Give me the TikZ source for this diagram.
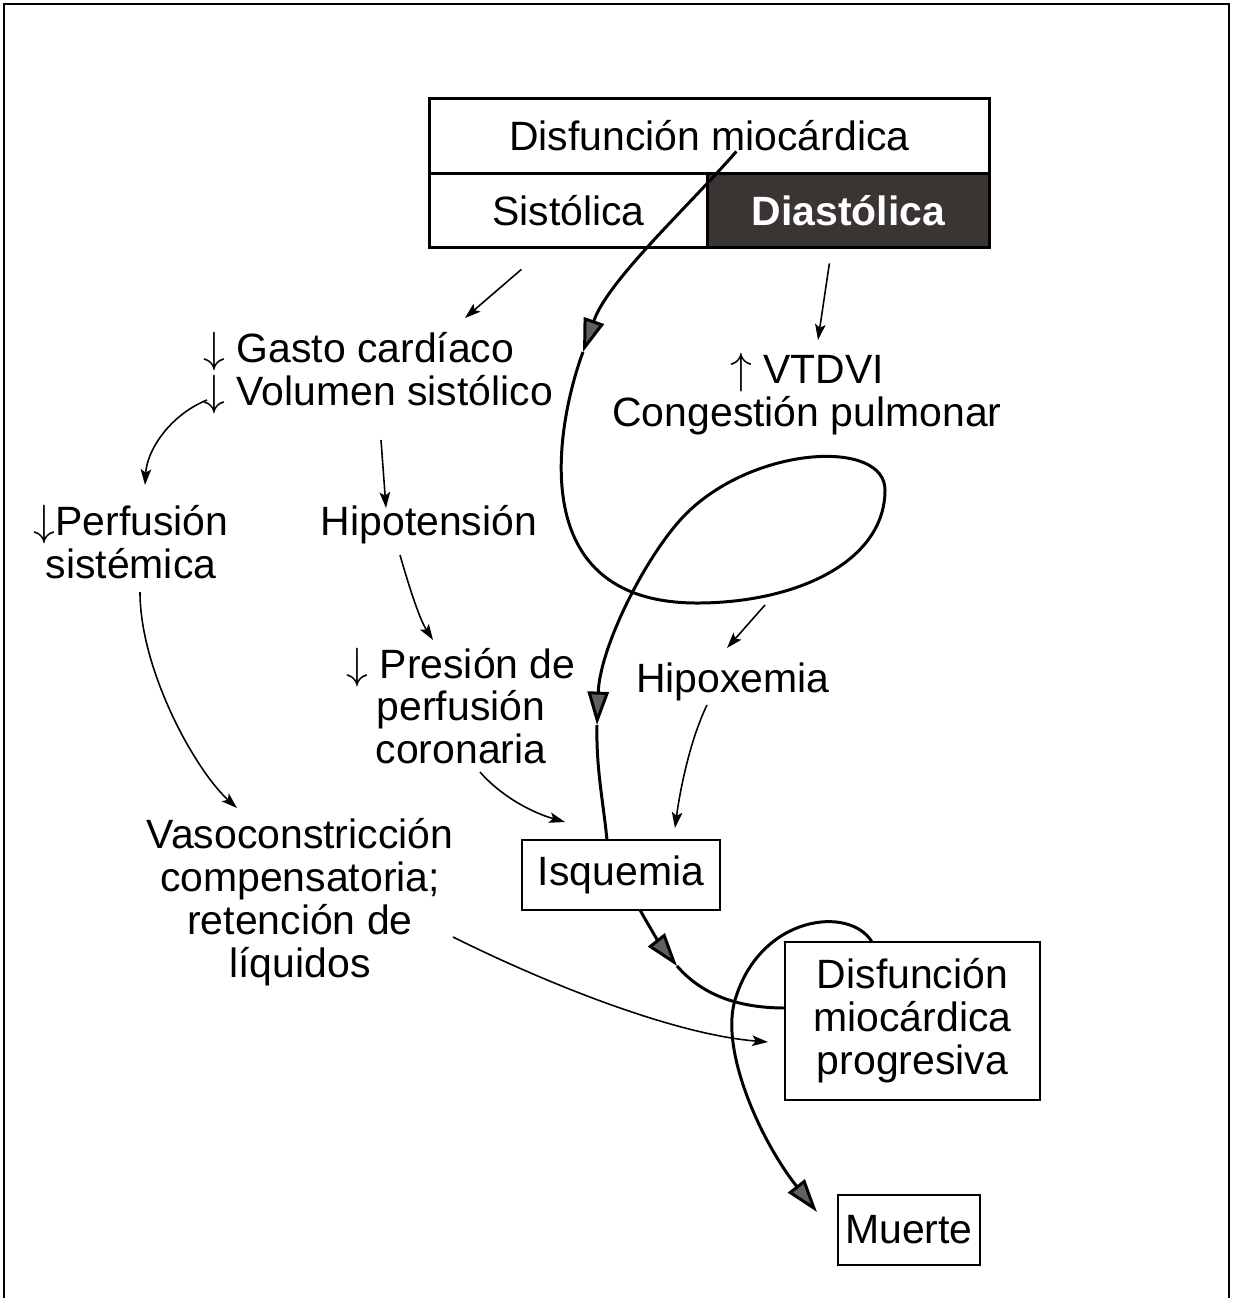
\documentclass[tikz,border=0pt]{standalone}
\usepackage{fontspec}
\setmainfont{Liberation Sans}
\usetikzlibrary{arrows.meta}
\definecolor{darkcell}{RGB}{58,53,51}
\definecolor{headgray}{RGB}{95,95,95}
\newcommand{\mainfnt}{\fontsize{23.3}{24.4}\selectfont}
\newcommand{\dn}{$\downarrow$}
\newcommand{\upa}{$\uparrow$}
\begin{document}
\begin{tikzpicture}[x=0.02cm,y=-0.02cm,font=\mainfnt]
\tikzset{
 cell/.style={draw, line width=1.6pt, inner sep=0pt, anchor=north west},
 boxn/.style={draw, line width=1.6pt, inner sep=0pt, align=center},
 txt/.style={inner sep=0pt, align=center},
 thinarr/.style={line width=0.9pt, -{Stealth[length=9pt,width=6pt,inset=2pt]}},
 thkline/.style={line width=1.7pt},
 thkarr/.style={line width=1.7pt, -{Triangle[length=19pt,width=12pt,fill=headgray]}},
}
\useasboundingbox (0,0) rectangle (1232,1298);
\draw[line width=1.6pt] (4,1298) -- (4,4) -- (1229,4) -- (1229,1298);

% top box
\node[cell, minimum width=11.2cm, minimum height=1.5cm] (dm) at (428,97) {Disfunción miocárdica};
\node[cell, minimum width=5.56cm, minimum height=1.48cm] (sis) at (428,172) {Sistólica};
\node[cell, fill=darkcell, text=white, font=\mainfnt\bfseries, minimum width=5.64cm, minimum height=1.48cm] (dia) at (706,172) {Diastólica};

% text nodes
\node[txt, align=left, anchor=west] (gc) at (203,373) {\dn\ Gasto cardíaco\\\dn\ Volumen sistólico};
\node[txt] (vt) at (807,394) {\upa\ VTDVI\\Congestión pulmonar};
\node[txt] (pf) at (131,542) {\dn Perfusión\\sistémica};
\node[txt] (hp) at (429,525) {Hipotensión};
\node[txt] (pr) at (461,706) {\dn\ Presión de\\perfusión\\coronaria};
\node[txt] (hx) at (733,682) {Hipoxemia};
\node[txt] (vc) at (300,902) {Vasoconstricción\\compensatoria;\\retención de\\líquidos};

% boxes
\node[boxn, minimum width=3.96cm, minimum height=1.4cm] (isq) at (621,875) {Isquemia};
\node[boxn, minimum width=5.1cm, minimum height=3.16cm] (dmp) at (912.5,1021) {Disfunción\\miocárdica\\progresiva};
\node[boxn, minimum width=2.84cm, minimum height=1.4cm] (mu) at (909,1230) {Muerte};

% thin arrows
\draw[thinarr] ([shift={(-47,59)}]sis.center) -- ([shift={(262,-55)}]gc.west);
\draw[thinarr] ([shift={(-19,53)}]dia.center) -- ([shift={(11,-54)}]vt.center);
\draw[thinarr] ([shift={(4,27)}]gc.west) .. controls (170,415) and (147,450) .. ([shift={(14,-57)}]pf.center);
\draw[thinarr] ([shift={(178,67)}]gc.west) -- ([shift={(-43,-17)}]hp.center);
\draw[thinarr] ([shift={(9,50)}]pf.center) .. controls (140,670) and (195,770) .. ([shift={(-63,-94)}]vc.center);
\draw[thinarr] ([shift={(-29,30)}]hp.center) .. controls (410,590) and (420,620) .. ([shift={(-28,-66)}]pr.center);
\draw[thinarr] ([shift={(19,66)}]pr.center) .. controls (500,795) and (530,812) .. ([shift={(-56,-53)}]isq.center);
\coordinate (lp) at (765,605);
\draw[thinarr] (lp) -- ([shift={(-6,-34)}]hx.center);
\draw[thinarr] ([shift={(-26,23)}]hx.center) .. controls (690,740) and (680,790) .. ([shift={(54,-47)}]isq.center);
\draw[thinarr] ([shift={(153,35)}]vc.center) .. controls (560,990) and (680,1035) .. ([shift={(-144.5,21)}]dmp.center);

% thick main curve
\coordinate (a1) at (583,352);
\coordinate (b1) at (700,603);
\coordinate (r1) at (885,490);
\coordinate (c1) at (690,510);
\coordinate (a2) at (597,725);
\draw[thkarr] ([shift={(27,15.5)}]dm.center) .. controls (690,205) and (608,280) .. (a1);
\draw[thkline] (a1) .. controls (564,402) and (510,605) .. (b1)
  .. controls (800,602) and (885,560) .. (r1)
  .. controls (885,440) and (760,445) .. (c1);
\draw[thkarr] (c1) .. controls (650,547) and (600,645) .. (a2);
\draw[thkline] (a2) .. controls (596,768) and (603,800) .. ([shift={(-14,-35)}]isq.center);

% isquemia -> disfuncion progresiva
\coordinate (a3) at (677,966);
\draw[thkarr] ([shift={(19,35)}]isq.center) .. controls (650,928) and (662,947) .. (a3);
\draw[thkline] (a3) .. controls (703,996) and (740,1008) .. ([shift={(-127.5,-13)}]dmp.center);

% disfuncion progresiva -> muerte
\draw[thkarr] ([shift={(-40.5,-79)}]dmp.center) .. controls (850,905) and (760,915) .. (735,1000)
  .. controls (720,1050) and (760,1140) .. ([shift={(-92,-18)}]mu.center);
\end{tikzpicture}
\end{document}
